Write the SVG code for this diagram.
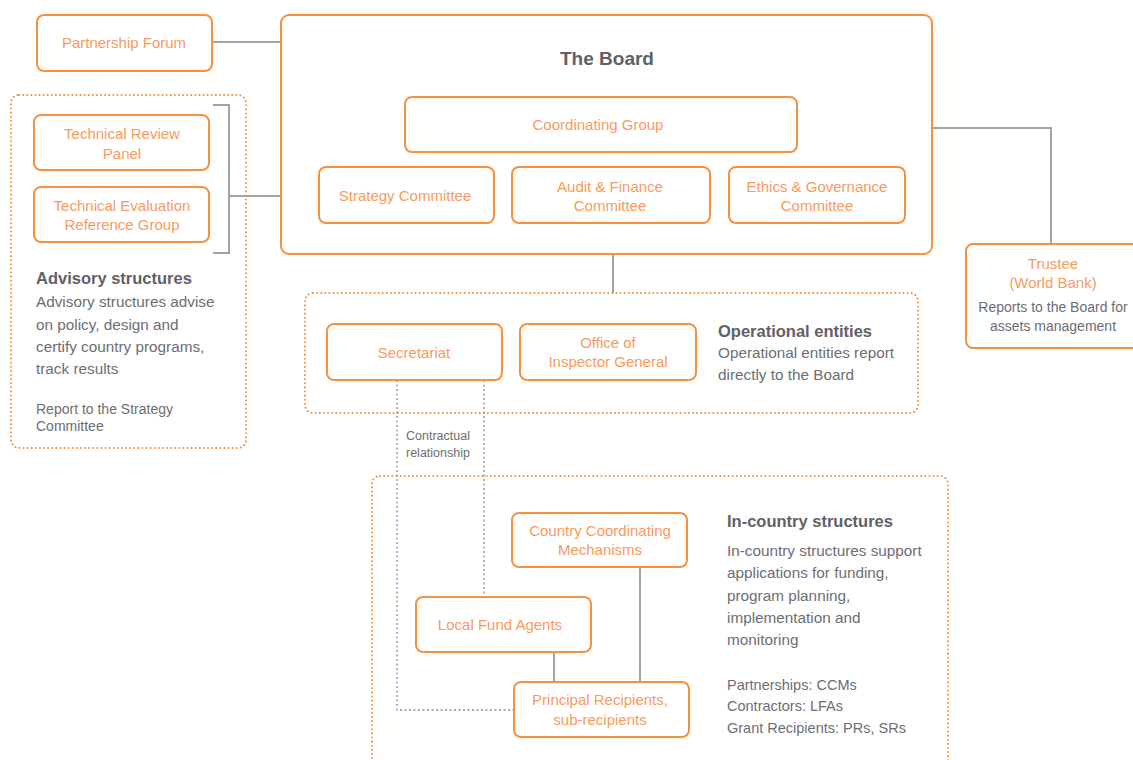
<svg xmlns="http://www.w3.org/2000/svg" width="1133" height="760" viewBox="0 0 1133 760">
  <style>
    .box { fill: #ffffff; stroke: #f7913d; stroke-width: 2; }
    .zone { fill: none; stroke: #f7913d; stroke-width: 2; stroke-dasharray: 0.1 4; stroke-linecap: round; }
    .lbl { font-family: "Liberation Sans", Arial, sans-serif; font-size: 15px; fill: #f89a60; text-anchor: middle; }
    .head { font-family: "Liberation Sans", Arial, sans-serif; font-size: 16.5px; font-weight: bold; fill: #5f6166; }
    .body { font-family: "Liberation Sans", Arial, sans-serif; font-size: 15.3px; fill: #6c6e73; }
    .list { font-family: "Liberation Sans", Arial, sans-serif; font-size: 14.5px; fill: #6c6e73; }
    .note { font-family: "Liberation Sans", Arial, sans-serif; font-size: 14px; fill: #6c6e73; }
    .small { font-family: "Liberation Sans", Arial, sans-serif; font-size: 12.5px; fill: #6c6e73; }
    .link { fill: none; stroke: #a3a3a3; stroke-width: 2; }
    .dot { fill: none; stroke: #8c8c8c; stroke-width: 1.3; stroke-dasharray: 2 2.5; }
  </style>

  <!-- structure zones (dotted) -->
  <g id="zones">
    <rect class="zone" x="11" y="95" width="235" height="353" rx="8"/>
    <rect class="zone" x="305" y="293" width="613" height="120" rx="8"/>
    <rect class="zone" x="372" y="476" width="576" height="300" rx="8"/>
  </g>

  <!-- connectors -->
  <g id="connectors">
    <line class="link" x1="212" y1="42" x2="281" y2="42"/>
    <polyline class="link" points="213,105 229,105 229,253 213,253"/>
    <line class="link" x1="229" y1="196" x2="319" y2="196"/>
    <polyline class="link" points="932,128 1051,128 1051,244"/>
    <line class="link" x1="613" y1="254" x2="613" y2="293"/>
    <line class="link" x1="554" y1="652" x2="554" y2="682"/>
    <line class="link" x1="640" y1="567" x2="640" y2="682"/>
    <polyline class="dot" points="397,380 397,710 514,710"/>
    <line class="dot" x1="484" y1="380" x2="484" y2="597"/>
    <text class="small" x="406" y="440">Contractual</text>
    <text class="small" x="406" y="457">relationship</text>
  </g>

  <g id="partnership-forum">
    <rect class="box" x="37" y="15" width="175" height="56" rx="7"/>
    <text class="lbl" x="124" y="48">Partnership Forum</text>
  </g>

  <g id="board">
    <rect class="box" x="281" y="15" width="651" height="239" rx="8"/>
    <text x="607" y="65" font-family="Liberation Sans, Arial, sans-serif" font-size="19" font-weight="bold" fill="#5f6166" text-anchor="middle">The Board</text>
  </g>

  <g id="coordinating-group">
    <rect class="box" x="405" y="97" width="392" height="55" rx="7"/>
    <text class="lbl" x="598" y="130">Coordinating Group</text>
  </g>

  <g id="strategy-committee">
    <rect class="box" x="319" y="167" width="175" height="56" rx="7"/>
    <text class="lbl" x="405" y="201">Strategy Committee</text>
  </g>

  <g id="audit-finance">
    <rect class="box" x="512" y="167" width="198" height="56" rx="7"/>
    <text class="lbl" x="610" y="192">Audit &amp; Finance</text>
    <text class="lbl" x="610" y="211">Committee</text>
  </g>

  <g id="ethics-governance">
    <rect class="box" x="729" y="167" width="176" height="56" rx="7"/>
    <text class="lbl" x="817" y="192">Ethics &amp; Governance</text>
    <text class="lbl" x="817" y="211">Committee</text>
  </g>

  <g id="technical-review-panel">
    <rect class="box" x="34" y="115" width="175" height="55" rx="7"/>
    <text class="lbl" x="122" y="139">Technical Review</text>
    <text class="lbl" x="122" y="159">Panel</text>
  </g>

  <g id="technical-evaluation">
    <rect class="box" x="34" y="187" width="175" height="55" rx="7"/>
    <text class="lbl" x="122" y="211">Technical Evaluation</text>
    <text class="lbl" x="122" y="230">Reference Group</text>
  </g>

  <g id="advisory-notes">
    <text class="head" x="36" y="284">Advisory structures</text>
    <text class="body" x="36" y="307">Advisory structures advise</text>
    <text class="body" x="36" y="330">on policy, design and</text>
    <text class="body" x="36" y="352">certify country programs,</text>
    <text class="body" x="36" y="374">track results</text>
    <text class="note" x="36" y="414">Report to the Strategy</text>
    <text class="note" x="36" y="431">Committee</text>
  </g>

  <g id="trustee">
    <rect class="box" x="966" y="244" width="180" height="104" rx="7"/>
    <text class="lbl" x="1053" y="269">Trustee</text>
    <text class="lbl" x="1053" y="288">(World Bank)</text>
    <text class="note" x="1053" y="312" text-anchor="middle">Reports to the Board for</text>
    <text class="note" x="1053" y="331" text-anchor="middle">assets management</text>
  </g>

  <g id="secretariat">
    <rect class="box" x="327" y="324" width="175" height="56" rx="7"/>
    <text class="lbl" x="414" y="358">Secretariat</text>
  </g>

  <g id="inspector-general">
    <rect class="box" x="520" y="324" width="176" height="56" rx="7"/>
    <text class="lbl" x="608" y="348">Office of</text>
    <text class="lbl" x="608" y="367">Inspector General</text>
  </g>

  <g id="operational-notes">
    <text class="head" x="718" y="337">Operational entities</text>
    <text class="body" x="718" y="358">Operational entities report</text>
    <text class="body" x="718" y="380">directly to the Board</text>
  </g>

  <g id="ccm">
    <rect class="box" x="512" y="513" width="175" height="54" rx="7"/>
    <text class="lbl" x="600" y="536">Country Coordinating</text>
    <text class="lbl" x="600" y="555">Mechanisms</text>
  </g>

  <g id="lfa">
    <rect class="box" x="416" y="597" width="175" height="55" rx="7"/>
    <text class="lbl" x="500" y="630">Local Fund Agents</text>
  </g>

  <g id="principal-recipients">
    <rect class="box" x="514" y="682" width="175" height="55" rx="7"/>
    <text class="lbl" x="600" y="705">Principal Recipients,</text>
    <text class="lbl" x="600" y="725">sub-recipients</text>
  </g>

  <g id="in-country-notes">
    <text class="head" x="727" y="527">In-country structures</text>
    <text class="body" x="727" y="556">In-country structures support</text>
    <text class="body" x="727" y="578">applications for funding,</text>
    <text class="body" x="727" y="601">program planning,</text>
    <text class="body" x="727" y="623">implementation and</text>
    <text class="body" x="727" y="645">monitoring</text>
    <text class="list" x="727" y="690">Partnerships: CCMs</text>
    <text class="list" x="727" y="711">Contractors: LFAs</text>
    <text class="list" x="727" y="733">Grant Recipients: PRs, SRs</text>
  </g>
</svg>
